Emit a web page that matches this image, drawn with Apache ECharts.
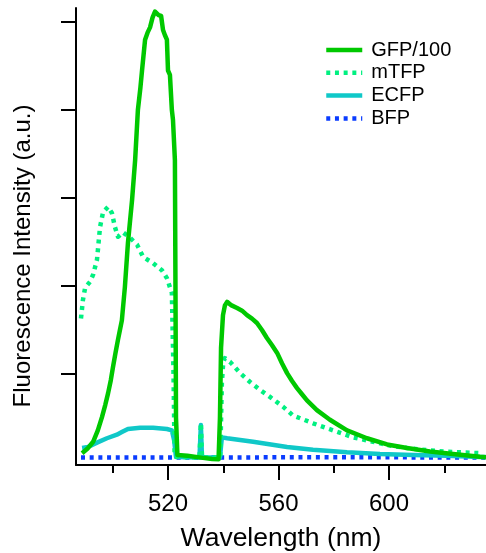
<!DOCTYPE html>
<html>
<head>
<meta charset="utf-8">
<script src="https://cdn.jsdelivr.net/npm/echarts@6/dist/echarts.min.js"></script>
<style>html,body{margin:0;padding:0;background:#fff}#c{width:486px;height:553px}</style>
</head>
<body>
<div id="c"></div>
<script>
const seriesNames = ['GFP/100', 'mTFP', 'ECFP', 'BFP'];
const xMajorTicks = [520, 560, 600];
const xMinorTicks = [500, 540, 580, 620];
const yTicks = [1, 2, 3, 4, 5];

const gfp = [[488.9,0.10],[490.8,0.15],[492.9,0.23],[494.6,0.36],[496.1,0.51],[497.3,0.65],[498.3,0.78],[499.3,0.93],[500.1,1.08],[501.0,1.24],[501.9,1.39],[502.6,1.50],[503.3,1.61],[504.4,1.99],[505.5,2.49],[507.0,2.98],[508.1,3.43],[509.1,4.00],[510.0,4.25],[510.6,4.45],[511.7,4.80],[512.6,4.88],[513.5,4.94],[514.4,5.05],[515.3,5.12],[516.0,5.13],[516.6,5.08],[517.5,5.07],[518.2,4.91],[518.9,4.85],[519.6,4.80],[520.0,4.45],[520.7,4.40],[521.4,4.00],[521.8,3.89],[522.5,3.43],[522.7,2.0],[522.9,0.5],[523.4,0.08],[527.0,0.07],[532.0,0.05],[536.0,0.035],[538.3,0.03],[538.8,0.5],[539.2,1.3],[539.9,1.67],[540.6,1.78],[541.4,1.82],[543.0,1.78],[545.0,1.75],[546.8,1.72],[548.6,1.67],[550.4,1.63],[552.2,1.58],[554.0,1.50],[555.8,1.41],[557.6,1.33],[559.5,1.24],[561.3,1.12],[563.1,1.01],[564.9,0.92],[566.7,0.84],[568.5,0.77],[570.3,0.70],[573.9,0.59],[578.6,0.48],[584.8,0.36],[592.0,0.27],[599.3,0.20],[606.5,0.16],[614.8,0.12],[623.2,0.09],[632.9,0.06],[635.1,0.055]];

const mtfp = [[488.5,1.63],[489.2,1.84],[490.0,1.98],[491.8,2.05],[492.9,2.13],[494.3,2.30],[495.4,2.67],[496.5,2.84],[498.3,2.90],[499.7,2.83],[500.8,2.67],[501.9,2.56],[503.7,2.61],[506.2,2.55],[508.8,2.47],[511.0,2.33],[514.6,2.26],[517.8,2.18],[519.6,2.09],[521.4,1.92],[522.0,1.0],[522.4,0.06],[531.4,0.05],[531.9,0.44],[532.3,0.05],[538.9,0.05],[539.5,0.9],[540.0,1.14],[540.6,1.18],[542.4,1.14],[546.1,1.01],[549.7,0.91],[553.3,0.82],[556.9,0.74],[561.6,0.63],[565.2,0.53],[572.5,0.44],[579.7,0.36],[587.0,0.28],[594.2,0.23],[601.4,0.18],[608.7,0.15],[617.4,0.125],[625.7,0.11],[634.0,0.10]];

const ecfp = [[488.9,0.16],[491.0,0.17],[494.3,0.22],[497.9,0.27],[501.5,0.31],[503.3,0.34],[505.5,0.375],[509.9,0.39],[514.6,0.39],[519.6,0.375],[521.4,0.36],[522.2,0.25],[522.9,0.057],[531.4,0.05],[531.9,0.42],[532.3,0.05],[538.8,0.05],[539.5,0.28],[541.4,0.27],[550.8,0.23],[563.1,0.17],[572.5,0.14],[584.8,0.11],[596.7,0.09],[608.7,0.08],[621.0,0.07],[632.9,0.057],[635.1,0.057]];

const bfp = [[488.5,0.05],[500,0.05],[520,0.051],[540,0.052],[560,0.053],[580,0.053],[600,0.053],[620,0.052],[635.1,0.052]];

const FONT = 'Liberation Sans, Arial, sans-serif';
const chart = echarts.init(document.getElementById('c'), null, {renderer: 'canvas'});
const mk = (name, data, color, type, z) => ({
  name, type: 'line', data, symbol: 'none', showSymbol: false, z,
  lineStyle: {color, width: 4.5, type, join: 'round', cap: 'butt'},
  itemStyle: {color}, emphasis: {disabled: true}
});
chart.setOption({
  animation: false,
  backgroundColor: '#fff',
  grid: {left: 76, right: 0, top: 8, bottom: 88, containLabel: false, outerBoundsMode: 'none'},
  legend: {
    data: seriesNames, orient: 'vertical', left: 324, top: 40, padding: 0,
    itemWidth: 36, itemHeight: 14, itemGap: 2.8,
    itemStyle: {opacity: 0, borderWidth: 0},
    lineStyle: {width: 4.5},
    textStyle: {fontFamily: FONT, fontSize: 20, color: '#000', lineHeight: 20, padding: [0,0,0,4]}
  },
  xAxis: [{
    type: 'value', min: 486.7, max: 635.1, position: 'bottom',
    axisLine: {onZero: false, lineStyle: {color: '#000', width: 2}},
    axisTick: {customValues: xMajorTicks, length: 15, lineStyle: {color: '#000', width: 2}},
    axisLabel: {customValues: xMajorTicks, fontFamily: FONT, fontSize: 24, color: '#000', margin: 27},
    splitLine: {show: false},
    name: 'Wavelength (nm)', nameLocation: 'middle', nameGap: 60,
    nameTextStyle: {fontFamily: FONT, fontSize: 26.5, color: '#000'}
  }, {
    type: 'value', min: 486.7, max: 635.1, position: 'bottom',
    axisLine: {show: false, onZero: false},
    axisTick: {customValues: xMinorTicks, length: 8, lineStyle: {color: '#000', width: 2}},
    axisLabel: {show: false}, splitLine: {show: false}
  }],
  yAxis: {
    type: 'value', min: -0.034, max: 5.16,
    axisLine: {onZero: false, lineStyle: {color: '#000', width: 2}},
    axisTick: {customValues: yTicks, length: 15, lineStyle: {color: '#000', width: 2}},
    axisLabel: {show: false}, splitLine: {show: false}
  },
  graphic: [{
    type: 'text', x: 23, y: 256, rotation: Math.PI / 2,
    style: {text: 'Fluorescence Intensity (a.u.)', font: '24px ' + FONT, fill: '#000', align: 'center', verticalAlign: 'middle'}
  }],
  series: [
    mk('GFP/100', gfp, '#00c800', 'solid', 5),
    mk('mTFP', mtfp, '#00f080', [4, 4.7], 4),
    mk('ECFP', ecfp, '#10c8c8', 'solid', 3),
    mk('BFP', bfp, '#0a3cff', [4, 4.7], 2)
  ]
});
</script>
</body>
</html>
